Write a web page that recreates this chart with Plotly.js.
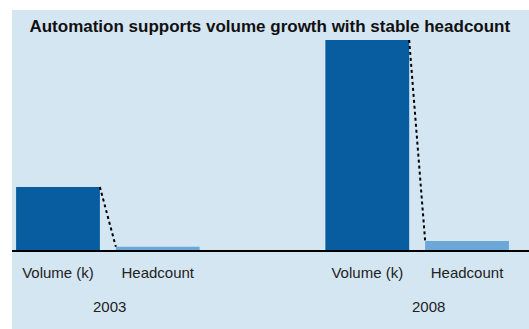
<!DOCTYPE html>
<html>
<head>
<meta charset="utf-8">
<script src="https://cdn.plot.ly/plotly-3.0.1.min.js"></script>
<style>
html,body{margin:0;padding:0;background:#fff;}
#chart{width:529px;height:329px;}
</style>
</head>
<body>
<div id="chart"></div>
<script>
// Data
const years = ["2003", "2008"];
const metrics = ["Volume (k)", "Headcount"];
const volume = [30, 100];
const headcount = [1.5, 4.3];
const chartTitle = "Automation supports volume growth with stable headcount";

// Layout helpers
const groupGap = 3.1;
const barWidth = 0.84;
const darkBlue = "#075d9f";
const lightBlue = "#6ba8d7";
const panelBg = "#d5e6f3";

const volX = years.map((y, g) => g * groupGap);
const headX = years.map((y, g) => g * groupGap + 1);

const traces = [
  {type: "bar", x: volX, y: volume, width: barWidth, marker: {color: darkBlue}, hoverinfo: "skip"},
  {type: "bar", x: headX, y: headcount, width: barWidth, marker: {color: lightBlue}, hoverinfo: "skip"}
];
years.forEach((y, g) => {
  traces.push({
    type: "scatter", mode: "lines",
    x: [volX[g] + barWidth / 2, headX[g] - barWidth / 2],
    y: [volume[g], headcount[g]],
    line: {color: "#000", width: 2, dash: "dot"},
    hoverinfo: "skip"
  });
});

const tickvals = [], ticktext = [];
years.forEach((y, g) => {
  tickvals.push(volX[g], headX[g]);
  ticktext.push(metrics[0], metrics[1]);
});

const annotations = years.map((y, g) => ({
  text: y, xref: "x", yref: "paper",
  x: (volX[g] + headX[g]) / 2, y: -0.259,
  xshift: g === 1 ? 11 : 2,
  xanchor: "center", yanchor: "middle", showarrow: false,
  font: {family: "Liberation Sans, Arial, sans-serif", size: 15, color: "#222"}
}));

const layout = {
  width: 529, height: 329,
  margin: {l: 12, r: 0, t: 30, b: 79, pad: 0},
  paper_bgcolor: "#ffffff",
  plot_bgcolor: "rgba(0,0,0,0)",
  showlegend: false,
  barmode: "overlay",
  title: {
    text: "<b>" + chartTitle + "</b>",
    font: {family: "Liberation Sans, Arial, sans-serif", size: 17, color: "#111"},
    xref: "container", yref: "container",
    x: 0.51, y: 1 - 26 / 329, xanchor: "center", yanchor: "middle"
  },
  xaxis: {
    range: [-0.461, 4.721],
    tickvals: tickvals, ticktext: ticktext,
    showgrid: false, zeroline: false,
    showline: true, linecolor: "#000", linewidth: 2,
    ticks: "", ticklabelstandoff: 8,
    tickfont: {family: "Liberation Sans, Arial, sans-serif", size: 15, color: "#222"},
    fixedrange: true
  },
  yaxis: {
    range: [0, 104.76],
    visible: false, showgrid: false, zeroline: false, fixedrange: true
  },
  shapes: [{
    type: "rect", xref: "paper", yref: "paper",
    x0: 0, x1: 1.01, y0: -0.4, y1: 1.0909,
    fillcolor: panelBg, line: {width: 0}, layer: "below"
  }],
  annotations: annotations
};

Plotly.newPlot("chart", traces, layout, {displayModeBar: false, staticPlot: true});
</script>
</body>
</html>
